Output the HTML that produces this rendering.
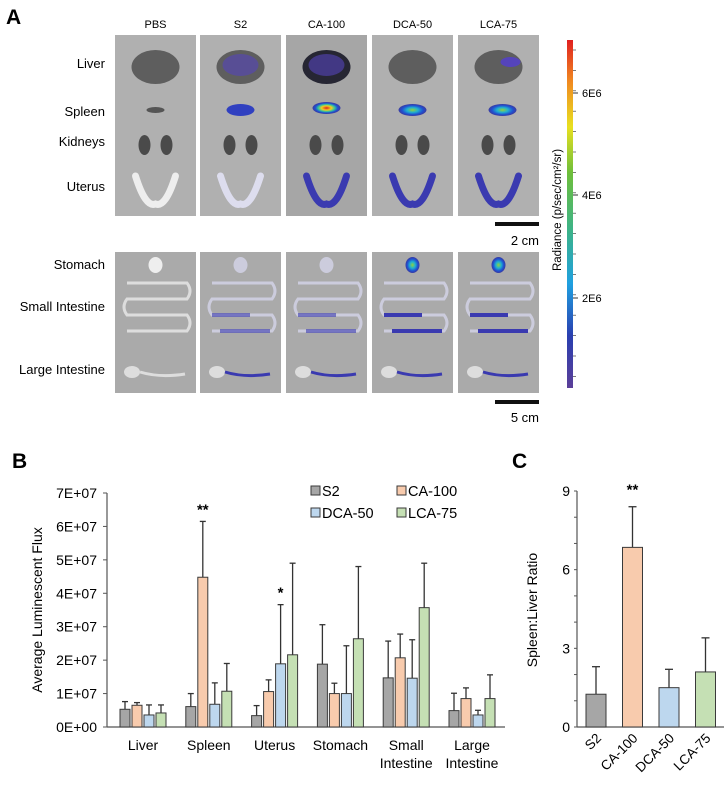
<!DOCTYPE html>
<html><head><meta charset="utf-8"><style>
html,body{margin:0;padding:0;background:#fff}
svg{display:block;font-family:"Liberation Sans",Arial,sans-serif}
</style></head><body>
<svg id="fig" width="728" height="788" viewBox="0 0 728 788" xmlns="http://www.w3.org/2000/svg">
<defs>
<linearGradient id="rad" x1="0" y1="1" x2="0" y2="0">
<stop offset="0" stop-color="#5b3f99"/><stop offset="0.15" stop-color="#2a3fb0"/><stop offset="0.3" stop-color="#1fa0e0"/><stop offset="0.45" stop-color="#3cb38a"/><stop offset="0.62" stop-color="#6fbf3a"/><stop offset="0.75" stop-color="#e8e020"/><stop offset="0.88" stop-color="#f08a20"/><stop offset="1" stop-color="#e02020"/>
</linearGradient>
<radialGradient id="heat"><stop offset="0" stop-color="#e02020"/><stop offset="0.35" stop-color="#f0d020"/><stop offset="0.6" stop-color="#30c0a0"/><stop offset="0.8" stop-color="#2050d0"/><stop offset="1" stop-color="#3a3aa0"/></radialGradient>
<radialGradient id="heat2"><stop offset="0" stop-color="#90d040"/><stop offset="0.4" stop-color="#20b0d0"/><stop offset="0.75" stop-color="#2050d0"/><stop offset="1" stop-color="#3a3aa0"/></radialGradient>
</defs>
<text x="6" y="24" font-size="21" font-weight="bold">A</text>
<text x="12" y="468" font-size="21" font-weight="bold">B</text>
<text x="512" y="468" font-size="21" font-weight="bold">C</text>
<g id="panelA"></g>
<g id="chartB"></g>
<g id="chartC"></g>
</svg>
<script>
// ---- Chart B data ----
const categories = ["Liver","Spleen","Uterus","Stomach","Small|Intestine","Large|Intestine"];
const seriesNames = ["S2","CA-100","DCA-50","LCA-75"];
const s2Values = [5.3, 6.1, 3.4, 18.8, 14.7, 4.9];
const ca100Values = [6.5, 44.8, 10.6, 10.0, 20.7, 8.5];
const dca50Values = [3.6, 6.8, 18.9, 10.0, 14.6, 3.6];
const lca75Values = [4.2, 10.7, 21.6, 26.4, 35.7, 8.5];
const s2Err = [7.6, 10.0, 6.4, 30.6, 25.7, 10.1];
const ca100Err = [7.3, 61.5, 14.1, 13.1, 27.8, 11.7];
const dca50Err = [6.6, 13.2, 36.6, 24.3, 26.1, 5.0];
const lca75Err = [6.6, 19.0, 49.0, 48.0, 49.0, 15.6];
const yTicksB = ["0E+00","1E+07","2E+07","3E+07","4E+07","5E+07","6E+07","7E+07"];
// ---- Chart C data ----
const ratioCats = ["S2","CA-100","DCA-50","LCA-75"];
const ratioValues = [1.25, 6.85, 1.5, 2.1];
const ratioErr = [2.3, 8.4, 2.2, 3.4];
const yTicksC = [0,3,6,9];

const NS="http://www.w3.org/2000/svg";
function mk(parent,tag,attrs,text){const e=document.createElementNS(NS,tag);for(const k in attrs)e.setAttribute(k,attrs[k]);if(text!=null)e.textContent=text;parent.appendChild(e);return e;}
const colors=["#a6a6a6","#f8cbad","#bdd7ee","#c5e0b4"];

// ---------- Panel A ----------
const A=document.getElementById('panelA');
const colNames=["PBS","S2","CA-100","DCA-50","LCA-75"];
const colX=[115,200,286,372,458];const colW=81;
colNames.forEach((n,i)=>{
 const x=colX[i],cx=x+colW/2;
 let t=mk(A,'text',{x:cx,y:28,'font-size':11,'text-anchor':'middle'},n);
 
 
 let r=mk(A,'rect',{x:x,y:35,width:colW,height:181,fill:i==2?'#a6a6a6':'#b0b0b0'});
 
 
 mk(A,'ellipse',{cx:cx,cy:67,rx:24,ry:17,fill:i==2?'#262633':'#5e5e5e'});
 if(i==1||i==2)mk(A,'ellipse',{cx:cx,cy:65,rx:18,ry:11,fill:'#5544bb',opacity:0.6});
 if(i==4)mk(A,'ellipse',{cx:cx+12,cy:62,rx:10,ry:5,fill:'#5544bb'});
 if(i==0)mk(A,'ellipse',{cx:cx,cy:110,rx:9,ry:3,fill:'#555'});
 else mk(A,'ellipse',{cx:cx+(i==4?4:0),cy:110-(i==2?2:0),rx:14,ry:6,fill:i==2?'url(#heat)':(i==1?'#3040c0':'url(#heat2)')});
 mk(A,'ellipse',{cx:cx-11,cy:145,rx:6,ry:10,fill:'#4a4a4a'});
 mk(A,'ellipse',{cx:cx+11,cy:145,rx:6,ry:10,fill:'#4a4a4a'});
 mk(A,'path',{d:`M${cx-20} ${176} Q${cx-10} ${208} ${cx} ${204} Q${cx+10} ${208} ${cx+20} ${176}`,fill:'none',stroke:i==0?'#eee':(i==1?'#dde':'#3a3ab0'),'stroke-width':7,'stroke-linecap':'round'});
 let r2=mk(A,'rect',{x:x,y:252,width:colW,height:141,fill:'#aaaaaa'});
 
 
 mk(A,'ellipse',{cx:cx,cy:265,rx:7,ry:8,fill:i==0?'#eee':(i>=3?'url(#heat2)':'#ccd')});
 const s=i==0?'#ddd':'#ccd';
 mk(A,'path',{d:`M${x+12} 283 H${x+72} Q${x+78} 291 ${x+72} 299 H${x+12} Q${x+6} 307 ${x+12} 315 H${x+72} Q${x+78} 323 ${x+72} 331 H${x+12}`,fill:'none',stroke:s,'stroke-width':3});
 if(i>0)mk(A,'path',{d:`M${x+12} 315 H${x+50} M${x+20} 331 H${x+70}`,fill:'none',stroke:'#3a3ab0','stroke-width':4,opacity:i>=3?1:0.6});
 mk(A,'ellipse',{cx:x+17,cy:372,rx:8,ry:6,fill:'#ddd'});
 mk(A,'path',{d:`M${x+25} 372 Q${x+45} 378 ${x+70} 374`,fill:'none',stroke:i==0?'#ddd':'#3a3ab0','stroke-width':3});
});
[["Liver",68],["Spleen",116],["Kidneys",146],["Uterus",191],["Stomach",269],["Small Intestine",311],["Large Intestine",374]].forEach(([n,y])=>{
 let t=mk(A,'text',{x:105,y:y,'font-size':13,'text-anchor':'end'},n);
 
 
});
let sb=mk(A,'rect',{x:495,y:222,width:44,height:4,fill:'#111'});

mk(A,'text',{x:539,y:245,'font-size':13,'text-anchor':'end'},'2 cm');
let sb2=mk(A,'rect',{x:495,y:400,width:44,height:4,fill:'#111'});

mk(A,'text',{x:539,y:422,'font-size':13,'text-anchor':'end'},'5 cm');
let cb=mk(A,'rect',{x:567,y:40,width:6,height:348,fill:'url(#rad)'});

for(let k=0;k<17;k++){mk(A,'line',{x1:573,x2:576,y1:50+k*20.4,y2:50+k*20.4,stroke:'#444','stroke-width':0.7});}
[["6E6",93],["4E6",195],["2E6",298]].forEach(([l,y])=>{mk(A,'line',{x1:573,x2:578,y1:y,y2:y,stroke:'#333'});mk(A,'text',{x:582,y:y+4,'font-size':11},l);});
let rl=mk(A,'text',{x:0,y:0,'font-size':11.5,'text-anchor':'middle',transform:'translate(561,210) rotate(-90)'},'Radiance (p/sec/cm²/sr)');


// ---------- Chart B ----------
const B=document.getElementById('chartB');
const bx0=107,by0=727,byTop=493,bMax=70;
const yB=v=>by0-(v/bMax)*(by0-byTop);
const catCenter=i=>143+i*65.8;
const barW=10,barStep=12;
mk(B,'line',{x1:bx0,x2:bx0,y1:byTop,y2:by0,stroke:'#555','stroke-width':1.2});
mk(B,'line',{x1:bx0,x2:505,y1:by0,y2:by0,stroke:'#555','stroke-width':1.2});
yTicksB.forEach((l,i)=>{const y=yB(i*10);mk(B,'line',{x1:bx0-4,x2:bx0,y1:y,y2:y,stroke:'#555'});
 let t=mk(B,'text',{x:bx0-10,y:y+5,'font-size':14,'text-anchor':'end'},l);
 });
let ylB=mk(B,'text',{x:0,y:0,'font-size':14,'text-anchor':'middle',transform:'translate(42,610) rotate(-90)'},'Average Luminescent Flux');

const vals=[s2Values,ca100Values,dca50Values,lca75Values],errs=[s2Err,ca100Err,dca50Err,lca75Err];
categories.forEach((c,ci)=>{
 const cc=catCenter(ci);
 vals.forEach((sv,si)=>{
  const x=cc-23+si*barStep;
  const et=yB(errs[si][ci]),bt=yB(sv[ci]);
  mk(B,'line',{x1:x+barW/2,x2:x+barW/2,y1:et,y2:bt,stroke:'#333','stroke-width':1.3});
  mk(B,'line',{x1:x+barW/2-3,x2:x+barW/2+3,y1:et,y2:et,stroke:'#333','stroke-width':1.3});
  const r=mk(B,'rect',{x:x,y:bt,width:barW,height:by0-bt,fill:colors[si],stroke:'#3a3a3a','stroke-width':1});
  
  
 });
 c.split('|').forEach((ln,li)=>{const t=mk(B,'text',{x:cc,y:750+li*18,'font-size':14,'text-anchor':'middle'},ln);
  });
});
mk(B,'text',{x:catCenter(1)-23+barStep+barW/2,y:yB(61.5)-7,'font-size':15,'font-weight':'bold','text-anchor':'middle'},'**');
mk(B,'text',{x:catCenter(2)-23+2*barStep+barW/2,y:yB(36.6)-7,'font-size':15,'font-weight':'bold','text-anchor':'middle'},'*');
seriesNames.forEach((n,i)=>{
 const lx=311+(i%2)*86,ly=491+Math.floor(i/2)*22;
 const g=mk(B,'g',{});
 
 
 mk(g,'rect',{x:lx,y:ly-5,width:9,height:9,fill:colors[i],stroke:'#3a3a3a','stroke-width':1});
 mk(g,'text',{x:lx+11,y:ly+5,'font-size':14.5},n);
});

// ---------- Chart C ----------
const C=document.getElementById('chartC');
const cx0=577,cy0=727,cyTop=491,cMax=9;
const yC=v=>cy0-(v/cMax)*(cy0-cyTop);
mk(C,'line',{x1:cx0,x2:cx0,y1:cyTop,y2:cy0,stroke:'#555','stroke-width':1.2});
mk(C,'line',{x1:cx0,x2:724,y1:cy0,y2:cy0,stroke:'#555','stroke-width':1.2});
for(let v=0;v<=9;v++){const y=yC(v);mk(C,'line',{x1:cx0-3,x2:cx0,y1:y,y2:y,stroke:'#555'});}
yTicksC.forEach(v=>{const t=mk(C,'text',{x:cx0-7,y:yC(v)+5,'font-size':14,'text-anchor':'end'},String(v));
 });
let ylC=mk(C,'text',{x:0,y:0,'font-size':14,'text-anchor':'middle',transform:'translate(537,610) rotate(-90)'},'Spleen:Liver Ratio');

ratioCats.forEach((c,i)=>{
 const cc=596+i*36.5;
 const bt=yC(ratioValues[i]),et=yC(ratioErr[i]);
 mk(C,'line',{x1:cc,x2:cc,y1:et,y2:bt,stroke:'#333','stroke-width':1.3});
 mk(C,'line',{x1:cc-4,x2:cc+4,y1:et,y2:et,stroke:'#333','stroke-width':1.3});
 const r=mk(C,'rect',{x:cc-10,y:bt,width:20,height:cy0-bt,fill:colors[i],stroke:'#3a3a3a','stroke-width':1});
 
 
 const t=mk(C,'text',{x:0,y:0,'font-size':13.5,'text-anchor':'end',transform:`translate(${cc+6},${cy0+12}) rotate(-45)`},c);
 
});
mk(C,'text',{x:596+36.5,y:yC(8.4)-12,'font-size':15,'font-weight':'bold','text-anchor':'middle'},'**');
</script>
</body></html>
